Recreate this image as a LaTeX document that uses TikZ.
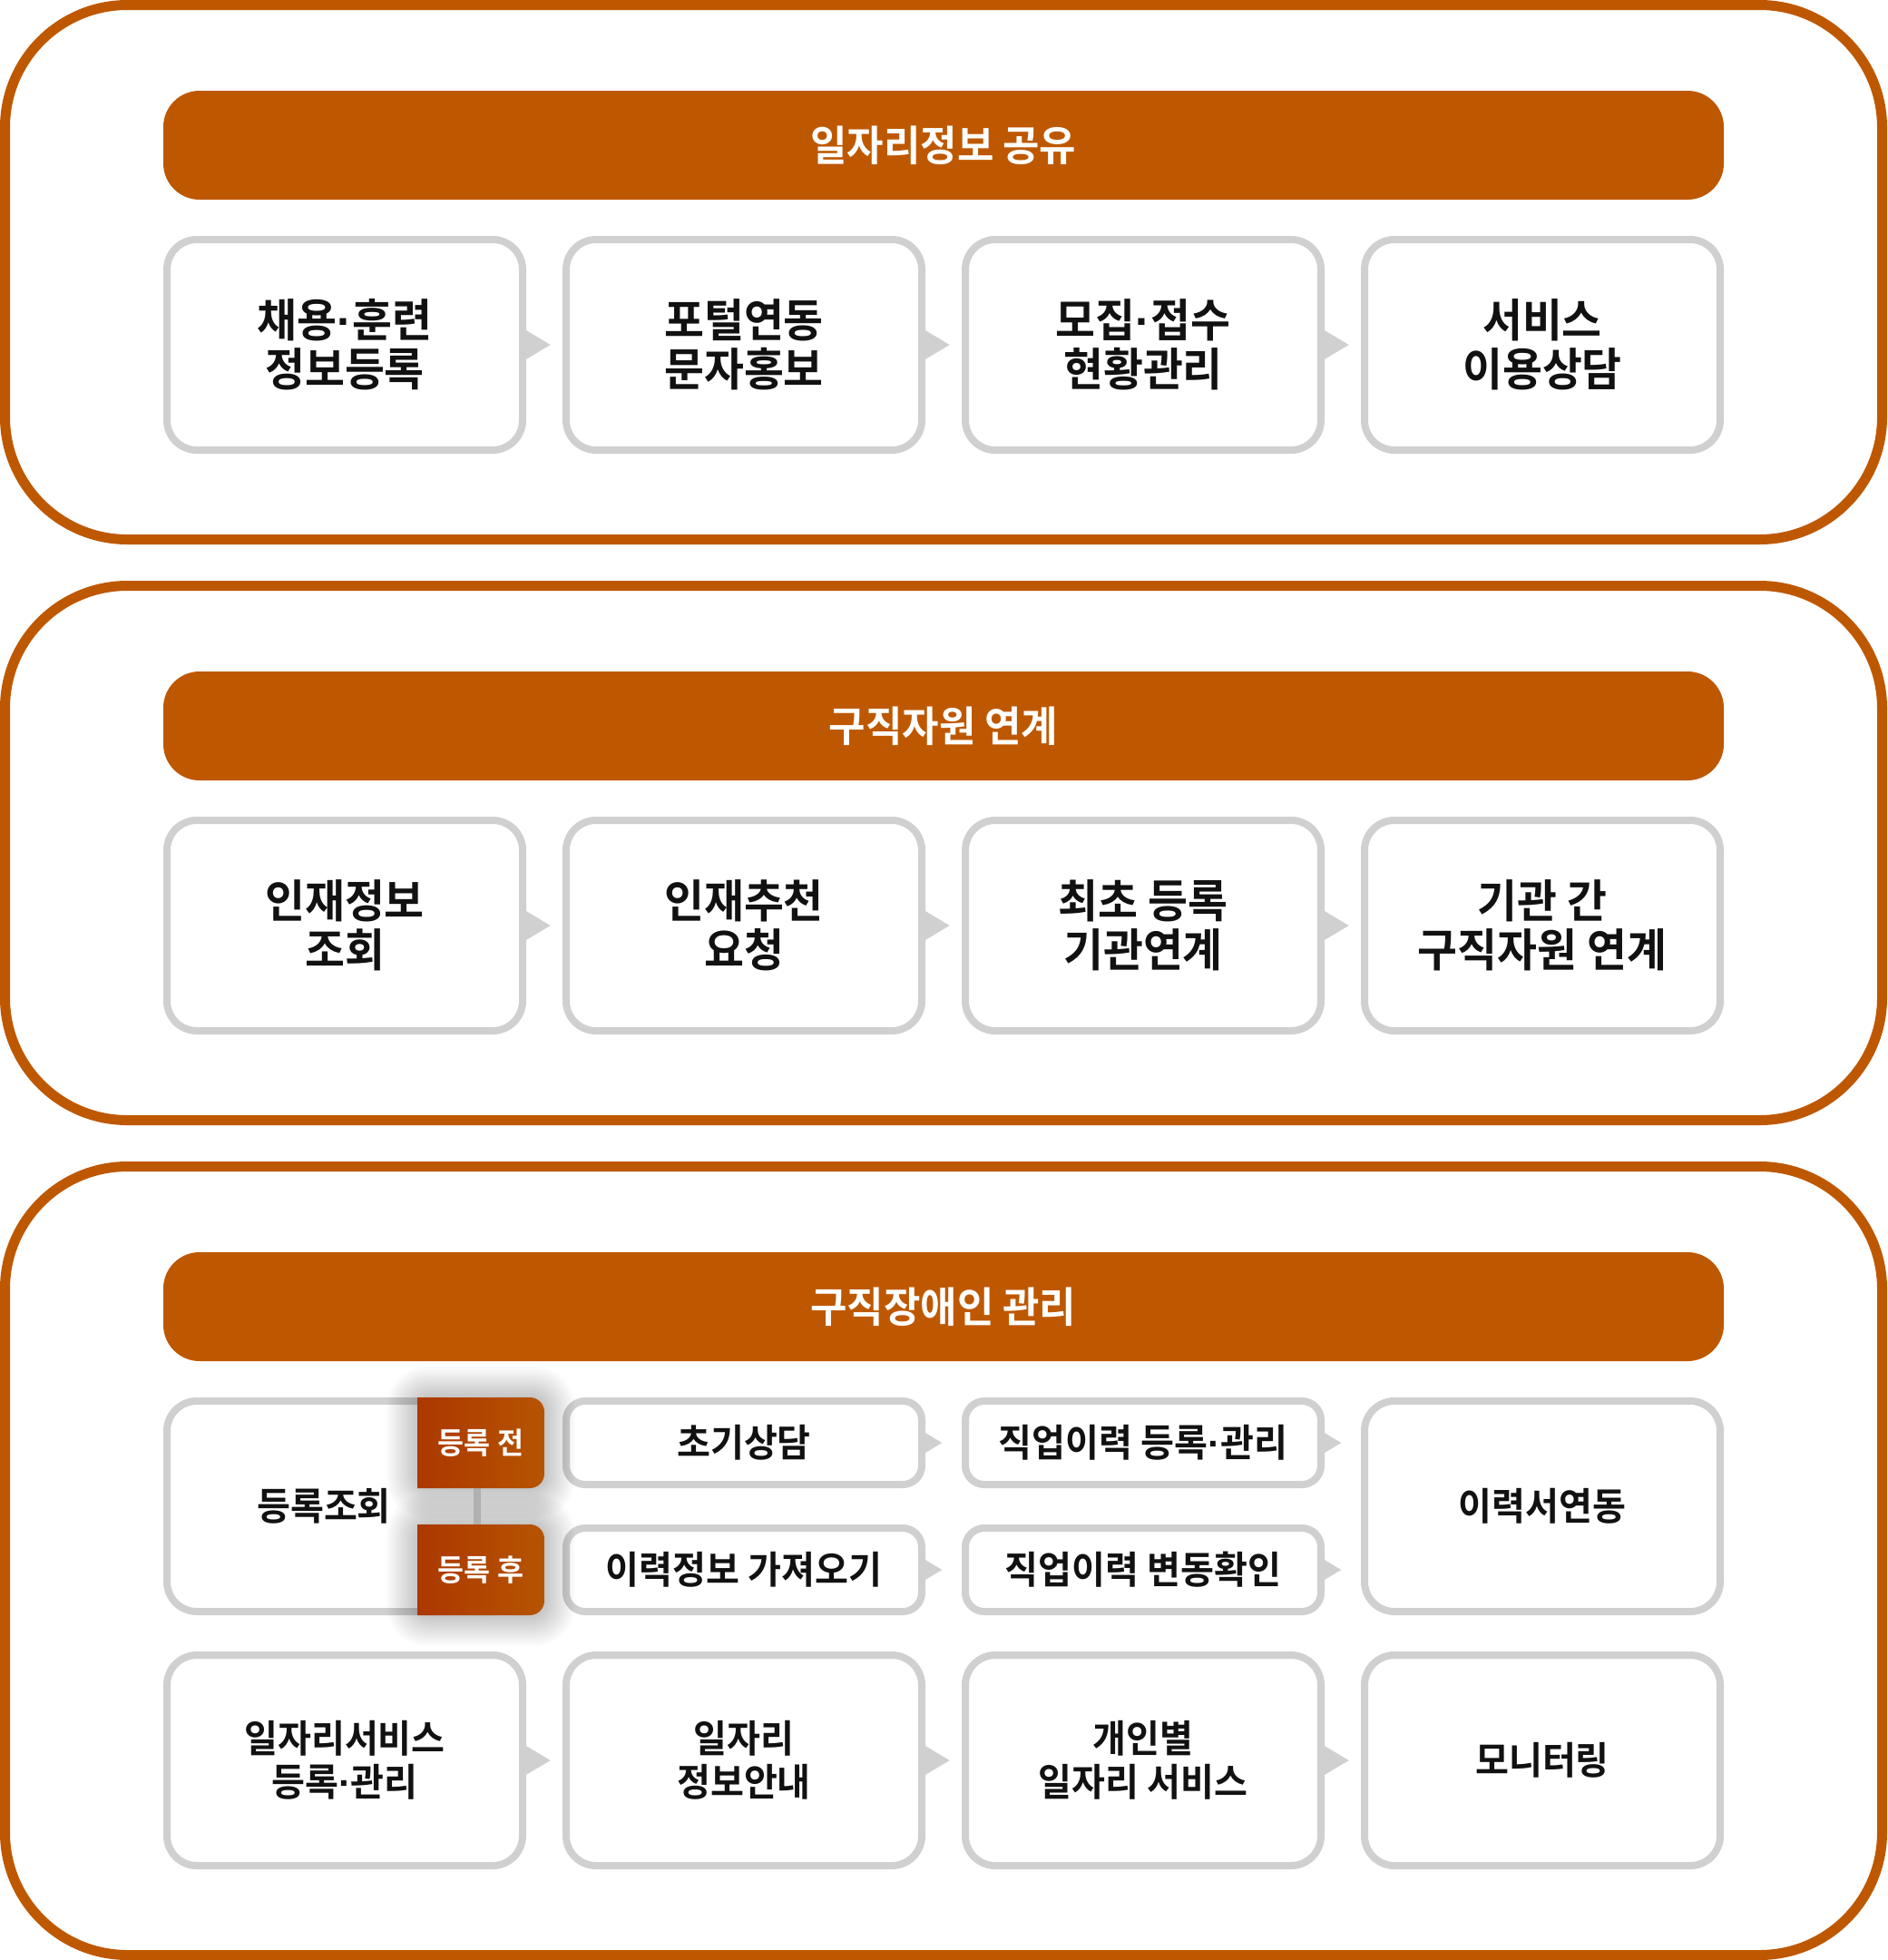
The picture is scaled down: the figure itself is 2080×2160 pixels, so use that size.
\documentclass[tikz,border=0pt]{standalone}
\usepackage{fontspec}
\newfontfamily\kr{Noto Sans CJK KR}[UprightFont=* Bold, FakeStretch=0.955]
\newfontfamily\dotfont{Liberation Sans}[UprightFont=* Bold]
\newcommand{\md}{{\dotfont ·}}
\usetikzlibrary{calc}
\definecolor{brand}{RGB}{190,88,0}
\definecolor{boxgray}{RGB}{208,208,208}
\definecolor{linkgray}{RGB}{176,176,176}
\definecolor{tagL}{RGB}{172,56,0}
\definecolor{tagR}{RGB}{182,84,0}
\definecolor{ink}{RGB}{17,17,17}
\newcommand{\bigtri}[1]{\fill[boxgray] ([xshift=-4pt,yshift=18.3pt]#1.east) -- ([xshift=26.7pt]#1.east) -- ([xshift=-4pt,yshift=-18.3pt]#1.east) -- cycle;}
\newcommand{\smalltri}[1]{\fill[boxgray] ([xshift=-4pt,yshift=13.3pt]#1.east) -- ([xshift=18.3pt]#1.east) -- ([xshift=-4pt,yshift=-13.3pt]#1.east) -- cycle;}
\newcommand{\tagshadow}[1]{\foreach \i in {1,...,14}{
  \fill[black, opacity=0.014, rounded corners=16pt+\i*2pt]
    ([xshift=-\i*2.4pt, yshift=\i*2.4pt]#1.north west) rectangle ([xshift=\i*2.4pt, yshift=-\i*2.4pt]#1.south east);}}
\newcommand{\tagshape}[1]{\path[left color=tagL, right color=tagR]
  (#1.north west) -- ([xshift=-16pt]#1.north east) arc[start angle=90, end angle=0, radius=16pt]
  -- ([yshift=16pt]#1.south east) arc[start angle=0, end angle=-90, radius=16pt]
  -- (#1.south west) -- cycle;}
\begin{document}
\begin{tikzpicture}[x=1pt,y=-1pt,
  panel/.style={draw=brand, line width=11pt, rounded corners=135pt, minimum width=2069pt, inner sep=0pt},
  header/.style={fill=brand, rounded corners=40pt, minimum width=1720pt, minimum height=120pt, inner sep=0pt, text=white, font=\kr\fontsize{46}{50}\selectfont},
  bigbox/.style={draw=boxgray, line width=8pt, rounded corners=33pt, fill=white, minimum width=392pt, minimum height=232pt, inner sep=0pt, align=center, text=ink, font=\kr\fontsize{50}{54}\selectfont},
  midbox/.style={bigbox, font=\kr\fontsize{42}{48}\selectfont},
  smallbox/.style={draw=boxgray, line width=8pt, rounded corners=21pt, fill=white, minimum width=392pt, minimum height=92pt, inner sep=0pt, align=center, text=ink, font=\kr\fontsize{42}{48}\selectfont},
  plaintext/.style={inner sep=0pt, align=center, text=ink, font=\kr\fontsize{42}{48}\selectfont},
  tagbox/.style={minimum width=140pt, minimum height=100pt, inner sep=0pt, outer sep=0pt},
  tagtext/.style={inner sep=0pt, text=white, font=\kr\fontsize{33}{36}\selectfont},
  link/.style={draw=linkgray, line width=8pt}
]
\useasboundingbox (0,0) rectangle (2080,2160);
\fill[white] (0,0) rectangle (2080,2160);

% panels
\node[panel, minimum height=589pt] (P1) at (1040,300) {};
\node[panel, minimum height=589pt] (P2) at (1040,940) {};
\node[panel, minimum height=869pt] (P3) at (1040,1720) {};

% headers
\node[header] (H1) at (1040,160) {일자리정보 공유};
\node[header] (H2) at (1040,800) {구직자원 연계};
\node[header] (H3) at (1040,1440) {구직장애인 관리};

% panel 1
\node[bigbox] (A1) at (380,380) {채용\md 훈련\\정보등록};
\node[bigbox] (A2) at (820,380) {포털연동\\문자홍보};
\node[bigbox] (A3) at (1260,380) {모집\md 접수\\현황관리};
\node[bigbox] (A4) at (1700,380) {서비스\\이용상담};
\bigtri{A1}\bigtri{A2}\bigtri{A3}

% panel 2
\node[bigbox] (B1) at (380,1020) {인재정보\\조회};
\node[bigbox] (B2) at (820,1020) {인재추천\\요청};
\node[bigbox] (B3) at (1260,1020) {최초 등록\\기관연계};
\node[bigbox] (B4) at (1700,1020) {기관 간\\구직자원 연계};
\bigtri{B1}\bigtri{B2}\bigtri{B3}

% panel 3 top row
\node[midbox] (C1) at (380,1660) {};
\fill[white] ([xshift=-14pt]C1.east |- 0,1636) rectangle ([xshift=2pt]C1.east |- 0,1684);
\node[plaintext] (C1t) at ([xshift=-23pt]C1.center) {등록조회};
\node[smallbox] (C2a) at (820,1590) {초기상담};
\node[smallbox] (C2b) at (820,1730) {이력정보 가져오기};
\node[smallbox] (C3a) at (1260,1590) {직업이력 등록\md 관리};
\node[smallbox] (C3b) at (1260,1730) {직업이력 변동확인};
\node[midbox] (C4) at (1700,1660) {이력서연동};
\smalltri{C2a}\smalltri{C2b}\smalltri{C3a}\smalltri{C3b}

% tags
\node[tagbox] (T1) at (530,1590) {};
\node[tagbox] (T2) at (530,1730) {};
\tagshadow{T1}
\tagshadow{T2}
\draw[link] ([xshift=-4pt]T1.south) -- ([xshift=-4pt]T2.north);
\tagshape{T1}
\tagshape{T2}
\node[tagtext] (T1t) at (T1.center) {등록 전};
\node[tagtext] (T2t) at (T2.center) {등록 후};

% panel 3 bottom row
\node[midbox] (D1) at (380,1940) {일자리서비스\\등록\md 관리};
\node[midbox] (D2) at (820,1940) {일자리\\정보안내};
\node[midbox] (D3) at (1260,1940) {개인별\\일자리 서비스};
\node[midbox] (D4) at (1700,1940) {모니터링};
\bigtri{D1}\bigtri{D2}\bigtri{D3}
\end{tikzpicture}
\end{document}
